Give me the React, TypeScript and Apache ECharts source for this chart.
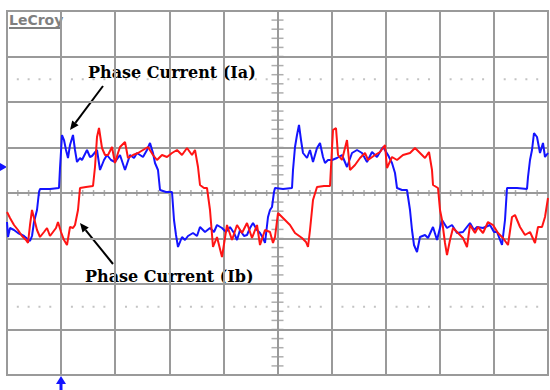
import { useEffect, useRef } from "react";
import * as echarts from "echarts";

// Phase current Ia (blue) : [time, value]
const iaPoints: [number, number][] = [
  [0, -29], [1, -44], [3, -35], [7, -37], [11, -40], [17, -43], [23, -48], [25, -43], [27, -29], [30, -17],
  [32, 1], [33, 4], [43, 4], [52, 5], [53, 25], [55, 58], [57, 53], [59, 43], [61, 35], [63, 48],
  [66, 58], [68, 43], [70, 31], [73, 35], [75, 33], [80, 43], [83, 36], [85, 37], [90, 43], [93, 23],
  [97, 33], [100, 38], [104, 33], [108, 31], [113, 38], [118, 23], [123, 38], [127, 35], [130, 40], [136, 36],
  [140, 43], [143, 50], [146, 40], [148, 30], [151, 23], [153, 3], [159, 1], [165, 1], [167, -27], [169, -42],
  [171, -54], [175, -44], [178, -47], [181, -43], [186, -40], [190, -43], [193, -34], [198, -39], [203, -35], [207, -39],
  [210, -32], [215, -35], [219, -39], [223, -34], [227, -40], [230, -47], [233, -37], [237, -43], [240, -42], [243, -35],
  [246, -30], [250, -37], [253, -40], [256, -45], [258, -50], [261, -24], [263, -17], [265, -14], [267, 1], [268, 5],
  [276, 4], [285, 5], [286, 23], [288, 46], [290, 58], [292, 68], [294, 53], [296, 40], [300, 35], [303, 43],
  [306, 31], [310, 45], [313, 50], [316, 36], [318, 30], [321, 33], [325, 33], [330, 35], [335, 38], [340, 26],
  [345, 40], [350, 43], [355, 40], [360, 31], [365, 41], [370, 36], [376, 46], [381, 38], [385, 30], [388, 20],
  [390, 5], [395, 3], [400, 3], [403, -17], [405, -37], [407, -52], [410, -59], [413, -44], [418, -42], [421, -45],
  [426, -34], [430, -47], [435, -27], [440, -35], [445, -32], [450, -40], [456, -39], [463, -30], [467, -37], [470, -34],
  [476, -35], [483, -32], [487, -39], [490, -39], [495, -52], [498, -27], [500, 5], [510, 5], [520, 4], [521, 16],
  [523, 33], [525, 43], [527, 60], [530, 56], [533, 40], [536, 50], [538, 36], [541, 40],
];

// Phase current Ib (red)
const ibPoints: [number, number][] = [
  [0, -19], [3, -25], [7, -32], [11, -37], [15, -43], [19, -47], [21, -50], [23, -32], [25, -17], [27, -25],
  [30, -37], [33, -44], [37, -39], [40, -35], [43, -43], [46, -39], [49, -35], [51, -29], [54, -39], [57, -47],
  [60, -52], [63, -34], [66, -35], [68, -32], [71, -17], [73, 5], [79, 6], [86, 7], [88, 26], [90, 56],
  [92, 65], [95, 45], [98, 38], [101, 38], [105, 46], [108, 30], [111, 40], [113, 46], [118, 51], [121, 35],
  [126, 38], [131, 40], [136, 43], [141, 46], [146, 38], [150, 33], [155, 38], [160, 36], [165, 40], [170, 43],
  [175, 38], [180, 45], [185, 38], [188, 43], [191, 26], [193, 8], [197, 5], [200, 5], [203, -17], [206, -54],
  [210, -44], [215, -64], [220, -32], [225, -47], [230, -32], [235, -40], [240, -30], [245, -45], [250, -32], [253, -52],
  [258, -37], [263, -39], [266, -50], [268, -44], [271, -20], [276, -25], [283, -32], [288, -40], [295, -45], [299, -49],
  [301, -54], [303, -37], [306, -7], [310, 6], [317, 7], [323, 7], [324, 26], [326, 63], [329, 65], [331, 38],
  [335, 33], [340, 53], [343, 23], [348, 28], [353, 35], [358, 40], [361, 33], [368, 38], [373, 41], [378, 48],
  [380, 25], [385, 36], [390, 33], [396, 38], [403, 40], [408, 45], [413, 40], [418, 35], [422, 41], [425, 23],
  [426, 8], [431, 5], [433, -17], [435, -27], [438, -50], [440, -62], [443, -47], [446, -35], [451, -40], [456, -45],
  [460, -54], [463, -32], [468, -40], [471, -34], [476, -40], [481, -29], [486, -32], [491, -40], [496, -45], [501, -52],
  [505, -24], [508, -22], [513, -34], [518, -42], [523, -39], [528, -50], [531, -34], [535, -34], [538, -24], [541, -5],
];

const labelIa = "Phase Current (Ia)";
const labelIb = "Phase Current (Ib)";
const brandText = "LeCroy";

const X_MAX = 541;
const X_DIV = 54.1;
const Y_MAX = 182;
const Y_DIV = 45.5;

const GRID_COLOR = "#9a9a9a";
const BLUE = "#1414ff";
const RED = "#ff1414";

export default function App() {
  const ref = useRef<HTMLDivElement>(null);

  useEffect(() => {
    const chart = echarts.init(ref.current!, null, { renderer: "svg" });

    // graticule decorations
    const hTicks: number[][] = [];
    for (let k = 0; k <= 50; k++) hTicks.push([(k * X_DIV) / 5, 0]);
    const vTicks: number[][] = [];
    for (let k = -20; k <= 20; k++) vTicks.push([X_MAX / 2, (k * Y_DIV) / 5]);
    const dots: number[][] = [];
    for (let k = 1; k < 50; k++) {
      if (k % 5 === 0) continue;
      dots.push([(k * X_DIV) / 5, 2.5 * Y_DIV]);
      dots.push([(k * X_DIV) / 5, -2.5 * Y_DIV]);
    }

    const arrow = (tail: number[], tip: number[]) => {
      const dx = tip[0] - tail[0];
      const dy = tip[1] - tail[1];
      const len = Math.hypot(dx, dy);
      const ux = dx / len;
      const uy = dy / len;
      const hl = 9;
      const hw = 4;
      const bx = tip[0] - ux * hl;
      const by = tip[1] - uy * hl;
      return [
        {
          type: "line",
          shape: { x1: tail[0], y1: tail[1], x2: bx, y2: by },
          style: { stroke: "#000", lineWidth: 2 },
        },
        {
          type: "polygon",
          shape: {
            points: [
              [tip[0], tip[1]],
              [bx - uy * hw, by + ux * hw],
              [bx + uy * hw, by - ux * hw],
            ],
          },
          style: { fill: "#000" },
        },
      ];
    };

    const option: any = {
      animation: false,
      backgroundColor: "#fff",
      grid: {
        left: 7,
        top: 11,
        width: 541,
        height: 364,
        show: true,
        borderColor: GRID_COLOR,
        borderWidth: 2,
      },
      xAxis: {
        type: "value",
        min: 0,
        max: X_MAX,
        interval: X_DIV,
        axisLine: { show: false },
        axisTick: { show: false },
        axisLabel: { show: false },
        splitLine: { show: true, lineStyle: { color: GRID_COLOR, width: 2 } },
      },
      yAxis: {
        type: "value",
        min: -Y_MAX,
        max: Y_MAX,
        interval: Y_DIV,
        axisLine: { show: false },
        axisTick: { show: false },
        axisLabel: { show: false },
        splitLine: { show: true, lineStyle: { color: GRID_COLOR, width: 2 } },
      },
      series: [
        {
          type: "scatter",
          silent: true,
          symbol: "rect",
          symbolSize: [1.5, 6],
          itemStyle: { color: GRID_COLOR },
          data: hTicks,
        },
        {
          type: "scatter",
          silent: true,
          symbol: "rect",
          symbolSize: [12, 1.5],
          itemStyle: { color: GRID_COLOR },
          data: vTicks,
        },
        {
          type: "scatter",
          silent: true,
          symbol: "rect",
          symbolSize: 2,
          itemStyle: { color: "#b4b4b4" },
          data: dots,
        },
        {
          name: "Ia",
          type: "line",
          showSymbol: false,
          data: iaPoints,
          lineStyle: { color: BLUE, width: 2 },
          itemStyle: { color: BLUE },
        },
        {
          name: "Ib",
          type: "line",
          showSymbol: false,
          data: ibPoints,
          lineStyle: { color: RED, width: 2 },
          itemStyle: { color: RED },
        },
      ],
      graphic: [
        {
          type: "text",
          x: 9,
          y: 20,
          style: {
            text: brandText,
            font: "bold 14px 'DejaVu Sans'",
            fill: "#7f7f7f",
            verticalAlign: "middle",
            align: "left",
          },
        },
        {
          type: "line",
          shape: { x1: 9, y1: 28, x2: 61, y2: 28 },
          style: { stroke: "#7f7f7f", lineWidth: 2 },
        },
        {
          type: "text",
          x: 88,
          y: 72,
          style: {
            text: labelIa,
            font: "bold 16px 'DejaVu Serif'",
            fill: "#000",
            verticalAlign: "middle",
            align: "left",
          },
        },
        {
          type: "text",
          x: 85,
          y: 276,
          style: {
            text: labelIb,
            font: "bold 16px 'DejaVu Serif'",
            fill: "#000",
            verticalAlign: "middle",
            align: "left",
          },
        },
        ...arrow([103, 86], [70, 130]),
        ...arrow([113, 264], [80, 223]),
        {
          type: "polygon",
          shape: { points: [[0, 163], [7, 167], [0, 171]] },
          style: { fill: BLUE },
        },
        {
          type: "polygon",
          shape: { points: [[56, 384], [61, 376], [66, 384]] },
          style: { fill: BLUE },
        },
        {
          type: "rect",
          shape: { x: 59.5, y: 383, width: 3, height: 7 },
          style: { fill: BLUE },
        },
      ],
    };

    chart.setOption(option);
    return () => chart.dispose();
  }, []);

  return (
    <div
      ref={ref}
      style={{ position: "fixed", left: 0, top: 0, width: 550, height: 390, background: "#fff" }}
    />
  );
}
